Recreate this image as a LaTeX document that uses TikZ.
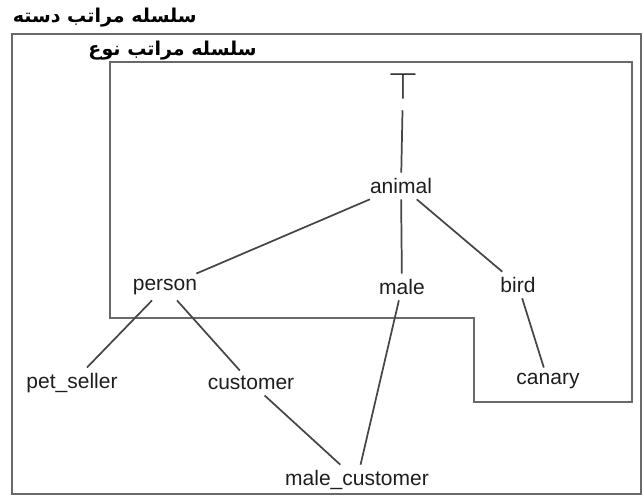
\documentclass[tikz,border=0pt]{standalone}
\usepackage{fontspec}
\usepackage{graphicx}
\setmainfont{Liberation Sans}
\newfontfamily\persianfont[Script=Arabic]{DejaVu Sans}
\TeXXeTstate=1
\definecolor{framegray}{RGB}{105,105,105}
\definecolor{edgegray}{RGB}{70,70,70}
\definecolor{labelblack}{RGB}{30,30,30}

\begin{document}
\begin{tikzpicture}[x=0.75pt, y=-0.75pt,
    concept/.style={text=labelblack, font=\fontsize{15.75}{18}\selectfont, inner sep=4pt},
    frame/.style={draw=framegray, line width=1.8pt},
    isa/.style={draw=edgegray, line width=1.3pt},
    caption/.style={text=black, font=\persianfont\bfseries\fontsize{14.3}{16}\selectfont, anchor=east, inner sep=0pt}]
  \useasboundingbox (0,0) rectangle (644,498);

  % Hierarchy frames
  \draw[frame] (12,34) rectangle (641,494);
  \draw[frame] (110,62) -- (632,62) -- (632,402) -- (474,402) -- (474,318) -- (110,318) -- cycle;
  \node[caption] (catlabel) at (197,18) {\beginR سلسله مراتب دسته\endR};
  \node[caption] (typelabel) at (257,51) {\beginR سلسله مراتب نوع\endR};

  % Concepts
  \node[concept, inner sep=8pt] (top) at (403,86) {\scalebox{2.0}{$\top$}};
  \node[concept] (animal) at (401,186) {animal};
  \node[concept] (person) at (165,287) {person};
  \node[concept] (male) at (402,287) {male};
  \node[concept] (bird) at (518,285) {bird};
  \node[concept] (petseller) at (72,383) {pet\_seller};
  \node[concept] (customer) at (251,383) {customer};
  \node[concept] (canary) at (548,381) {canary};
  \node[concept] (malecustomer) at (357,480) {male\_customer};

  % Subtype links
  \foreach \a/\b in {top/animal, animal/person, animal/male, animal/bird,
      person/petseller, person/customer, customer/malecustomer,
      male/malecustomer, bird/canary}
    \draw[isa] (\a) -- (\b);
\end{tikzpicture}
\end{document}
